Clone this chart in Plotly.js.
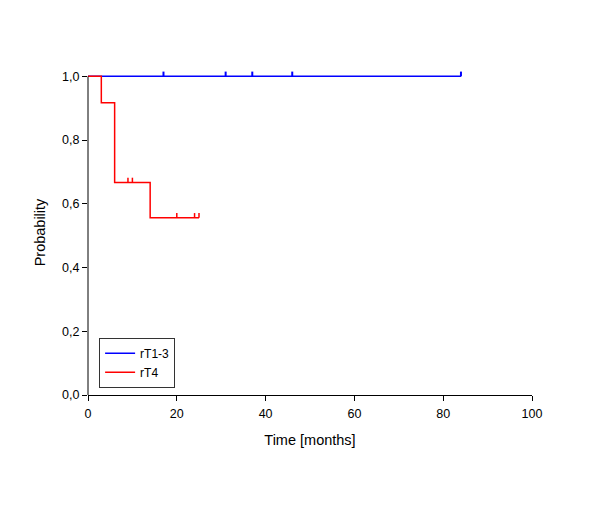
<!DOCTYPE html>
<html>
<head>
<meta charset="utf-8">
<script src="https://cdn.plot.ly/plotly-3.0.1.min.js"></script>
<style>html,body{margin:0;padding:0;background:#fff;}#chart{width:600px;height:510px;}</style>
</head>
<body>
<div id="chart"></div>
<script>
// Kaplan-Meier step data
const groupNames = ["rT1-3", "rT4"];
const blueTimes = [0, 84];
const blueSurv = [1.0, 1.0];
const blueCensorTimes = [17, 31, 37, 46, 84];
const blueCensorSurv = [1.0, 1.0, 1.0, 1.0, 1.0];

const redTimes = [0, 3, 6, 14, 25];
const redSurv = [1.0, 0.917, 0.667, 0.556, 0.556];
const redCensorTimes = [9, 10, 20, 24, 25];
const redCensorSurv = [0.667, 0.667, 0.556, 0.556, 0.556];

const xTicks = [0, 20, 40, 60, 80, 100];
const yTicks = [0, 0.2, 0.4, 0.6, 0.8, 1.0];

const tickHeight = 0.015; // censor mark height in probability units
function censorSegments(ts, ss) {
  const xs = [], ys = [];
  ts.forEach((t, i) => { xs.push(t, t, null); ys.push(ss[i], ss[i] + tickHeight, null); });
  return {xs, ys};
}
const bc = censorSegments(blueCensorTimes, blueCensorSurv);
const rc = censorSegments(redCensorTimes, redCensorSurv);

const blue = '#0000ff', red = '#ff0000';
const font = 'Liberation Sans, Arial, sans-serif';

const data = [
  {x: blueTimes, y: blueSurv, mode: 'lines', line: {shape: 'hv', color: blue, width: 1.5}, name: groupNames[0], hoverinfo: 'skip'},
  {x: bc.xs, y: bc.ys, mode: 'lines', line: {color: blue, width: 2}, showlegend: false, hoverinfo: 'skip'},
  {x: redTimes, y: redSurv, mode: 'lines', line: {shape: 'hv', color: red, width: 1.5}, name: groupNames[1], hoverinfo: 'skip'},
  {x: rc.xs, y: rc.ys, mode: 'lines', line: {color: red, width: 1.5}, showlegend: false, hoverinfo: 'skip'}
];

const layout = {
  width: 600, height: 510,
  margin: {l: 88, r: 68, t: 70, b: 115},
  paper_bgcolor: '#fff', plot_bgcolor: '#fff',
  separators: ',.',
  font: {family: font, size: 12, color: '#000'},
  showlegend: true,
  legend: {x: 0.025, y: 0.176, xanchor: 'left', yanchor: 'top', bordercolor: '#333', borderwidth: 1, bgcolor: 'rgba(255,255,255,0)', font: {family: font, size: 12, color: '#000'}, tracegroupgap: 0},
  xaxis: {
    range: [0, 100], tickvals: xTicks, ticks: 'outside', ticklen: 5, tickcolor: '#000',
    ticklabelstandoff: 2,
    showline: true, linecolor: '#000', linewidth: 1, showgrid: false, zeroline: false,
    tickfont: {family: font, size: 12.5, color: '#000'},
    title: {text: 'Time [months]', font: {family: font, size: 14.5, color: '#000'}, standoff: 14}
  },
  yaxis: {
    range: [0, 1.02], tickvals: yTicks, tickformat: '.1f', ticks: 'outside', ticklen: 5, tickcolor: '#000',
    showline: false, showgrid: false, zeroline: false,
    tickfont: {family: font, size: 12.5, color: '#000'},
    title: {text: 'Probability', font: {family: font, size: 14.5, color: '#000'}, standoff: 13}
  },
  shapes: [
    {type: 'line', xref: 'paper', yref: 'y', x0: 0, x1: 0, y0: yTicks[0], y1: yTicks[yTicks.length - 1], line: {color: '#000', width: 1}}
  ]
};

Plotly.newPlot('chart', data, layout, {displayModeBar: false, staticPlot: true});
</script>
</body>
</html>
